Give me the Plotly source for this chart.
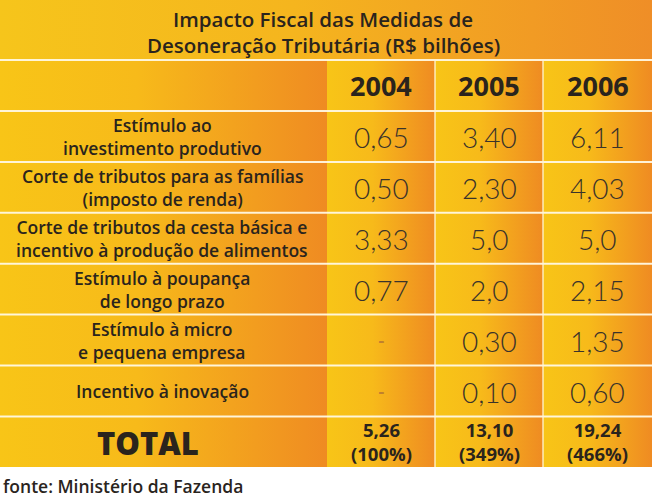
import plotly.graph_objects as go

# ---------------- data ----------------
title_lines = ["Impacto Fiscal das Medidas de", "Desoneração Tributária (R$ bilhões)"]
years = ["2004", "2005", "2006"]
medidas = [
    "Estímulo ao<br>investimento produtivo",
    "Corte de tributos para as famílias<br>(imposto de renda)",
    "Corte de tributos da cesta básica e<br>incentivo à produção de alimentos",
    "Estímulo à poupança<br>de longo prazo",
    "Estímulo à micro<br>e pequena empresa",
    "Incentivo à inovação",
]
v2004 = ["0,65", "0,50", "3,33", "0,77", "-", "-"]
v2005 = ["3,40", "2,30", "5,0", "2,0", "0,30", "0,10"]
v2006 = ["6,11", "4,03", "5,0", "2,15", "1,35", "0,60"]
totals = ["5,26", "13,10", "19,24"]
totals_pct = ["(100%)", "(349%)", "(466%)"]
source = "fonte: Ministério da Fazenda"

# ---------------- layout geometry ----------------
W, H = 655, 502
TITLE_BOTTOM = 60
HEADER_BOTTOM = 111
ROW_H = 50.9
TABLE_RIGHT = 652
col_edges = [0, 327, 435, 543, TABLE_RIGHT]
n_rows = len(medidas)
row_edges = [HEADER_BOTTOM + i * ROW_H for i in range(n_rows + 1)]
TOTAL_BOTTOM = 467

YEL = "#F8C517"
MID = "#F7BA1A"
ORA = "#EF8B22"
TXT = "#2a241d"
cell_scale = [[0, YEL], [0.42, MID], [1, ORA]]
title_scale = [[0, "#F6C51B"], [0.45, "#F5B51E"], [1, "#EF8E27"]]

FONT = "Open Sans"
NUMFONT = "Lato"

fig = go.Figure()


def cell(x0, x1, y0, y1, scale=cell_scale):
    fig.add_trace(go.Scatter(
        x=[x0, x1, x1, x0, x0], y=[y0, y0, y1, y1, y0],
        mode="lines", line=dict(width=0), fill="toself",
        fillgradient=dict(type="horizontal", colorscale=scale),
        hoverinfo="skip", showlegend=False))


# title band
cell(0, TABLE_RIGHT, 0, TITLE_BOTTOM, title_scale)

# header + body + total rows
all_rows = [(TITLE_BOTTOM, HEADER_BOTTOM)] + \
    [(row_edges[i], row_edges[i + 1]) for i in range(n_rows)] + \
    [(row_edges[-1], TOTAL_BOTTOM)]
for (y0, y1) in all_rows:
    for c in range(4):
        cell(col_edges[c], col_edges[c + 1], y0, y1)

# white separator lines
shapes = []
for y in [TITLE_BOTTOM, HEADER_BOTTOM] + row_edges[1:]:
    shapes.append(dict(type="line", xref="x", yref="y", x0=0, x1=TABLE_RIGHT,
                       y0=y, y1=y, line=dict(color="rgba(255,248,225,0.95)", width=2)))
for x in col_edges[2:4]:
    shapes.append(dict(type="line", xref="x", yref="y", x0=x, x1=x,
                       y0=TITLE_BOTTOM, y1=TOTAL_BOTTOM,
                       line=dict(color="rgba(255,245,215,0.85)", width=1.5)))

ann = []
# title
for i, t in enumerate(title_lines):
    ann.append(dict(x=323, y=19 + i * 26, text=t, showarrow=False, xref="x", yref="y",
                    font=dict(family=FONT, size=20.5, color=TXT, weight=600),
                    xanchor="center", yanchor="middle"))

centers = [(col_edges[c] + col_edges[c + 1]) / 2 for c in range(4)]
hdr_y = (TITLE_BOTTOM + HEADER_BOTTOM) / 2
for c, yr in enumerate(years):
    ann.append(dict(x=centers[c + 1], y=hdr_y, text=yr, showarrow=False, xref="x", yref="y",
                    font=dict(family=FONT, size=27, color=TXT, weight=700),
                    xanchor="center", yanchor="middle"))

cols = [v2004, v2005, v2006]
for r in range(n_rows):
    yc = (row_edges[r] + row_edges[r + 1]) / 2
    ann.append(dict(x=162, y=yc, text=medidas[r], showarrow=False, xref="x", yref="y",
                    font=dict(family=FONT, size=17.5, color=TXT, weight=600),
                    xanchor="center", yanchor="middle"))
    for c in range(3):
        val = cols[c][r]
        if val == "-":
            f = dict(family=NUMFONT, size=18, color="#C0802E", weight=700)
        else:
            f = dict(family=NUMFONT, size=28, color="#3a332b", weight=300)
        ann.append(dict(x=centers[c + 1], y=yc + 1, text=val, showarrow=False,
                        xref="x", yref="y", font=f,
                        xanchor="center", yanchor="middle"))

yt = (row_edges[-1] + TOTAL_BOTTOM) / 2
ann.append(dict(x=148, y=yt + 1, text="TOTAL", showarrow=False, xref="x", yref="y",
                font=dict(family=FONT, size=31, color=TXT, weight=800),
                xanchor="center", yanchor="middle"))
for c in range(3):
    ann.append(dict(x=centers[c + 1], y=yt, text=totals[c] + "<br>" + totals_pct[c],
                    showarrow=False, xref="x", yref="y",
                    font=dict(family=FONT, size=18.5, color=TXT, weight=700),
                    xanchor="center", yanchor="middle"))

ann.append(dict(x=1, y=486, text=source, showarrow=False, xref="x", yref="y",
                font=dict(family=FONT, size=17.5, color=TXT, weight=600),
                xanchor="left", yanchor="middle"))

fig.update_layout(
    width=W, height=H, margin=dict(l=0, r=0, t=0, b=0),
    paper_bgcolor="white", plot_bgcolor="white",
    xaxis=dict(range=[0, W], visible=False, fixedrange=True),
    yaxis=dict(range=[H, 0], visible=False, fixedrange=True),
    shapes=shapes, annotations=ann, showlegend=False,
)

fig.write_html(
    "out.html",
    config={"displayModeBar": False},
    post_script="document.body.style.margin='0';document.body.style.padding='0';"
                "document.body.style.overflow='hidden';",
)
